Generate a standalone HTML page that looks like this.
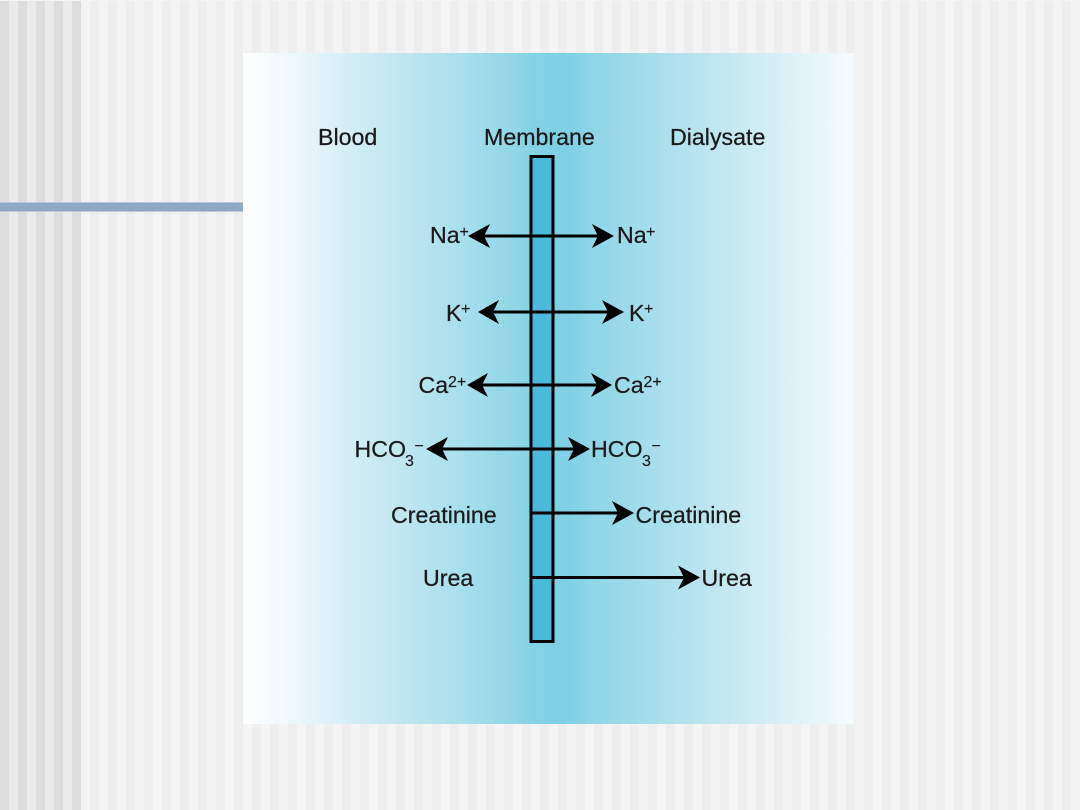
<!DOCTYPE html>
<html>
<head>
<meta charset="utf-8">
<style>
html,body{margin:0;padding:0;background:#f4f4f4;width:1080px;height:810px;overflow:hidden}
.a,.b{position:absolute;top:1px;height:809px}
.a{left:81px;width:999px;background:repeating-linear-gradient(90deg,#f4f4f4 0,#f4f4f4 9px,#eeeeee 9px,#eeeeee 18px)}
.b{left:0;width:81px;background:repeating-linear-gradient(90deg,#dddddd 0,#dddddd 9px,#ebebeb 9px,#ebebeb 18px)}
svg{display:block;position:absolute;left:0;top:0}
text{font-family:"Liberation Sans",Arial,sans-serif;font-size:23.2px;fill:#1a1a1a;stroke:#1a1a1a;stroke-width:.25px}
.s{font-size:16px;stroke-width:.15px}
</style>
</head>
<body>
<div class="a"></div>
<div class="b"></div>
<svg width="1080" height="810" viewBox="0 0 1080 810" xmlns="http://www.w3.org/2000/svg">
<defs>
<linearGradient id="bg" x1="243" x2="854" y1="0" y2="0" gradientUnits="userSpaceOnUse">
<stop offset="0" stop-color="#ffffff"/>
<stop offset="0.07" stop-color="#f0f9fc"/>
<stop offset="0.2" stop-color="#cdebf3"/>
<stop offset="0.36" stop-color="#a8dfec"/>
<stop offset="0.45" stop-color="#8ed5e7"/>
<stop offset="0.48" stop-color="#82d1e5"/>
<stop offset="0.53" stop-color="#7fd0e5"/>
<stop offset="0.57" stop-color="#8ed5e7"/>
<stop offset="0.72" stop-color="#b2e2ee"/>
<stop offset="0.88" stop-color="#d8f0f6"/>
<stop offset="1" stop-color="#f6fcfd"/>
</linearGradient>
</defs>

<rect x="0" y="202" width="243" height="10" fill="#b9c8d9"/>
<rect x="0" y="203" width="243" height="8" fill="#8ea9c5"/>

<rect x="243" y="53" width="611" height="671" fill="url(#bg)"/>

<rect x="531" y="156.500" width="22" height="485" fill="#4bb9d9" stroke="#000" stroke-width="3"/>

<g stroke="#000" stroke-width="3" fill="none">
<line x1="484" y1="236" x2="598" y2="236"/>
<line x1="493" y1="312" x2="608" y2="312"/>
<line x1="482" y1="385" x2="597" y2="385"/>
<line x1="442" y1="449" x2="574" y2="449"/>
<line x1="530" y1="513" x2="618" y2="513"/>
<line x1="530" y1="577.500" x2="684" y2="577.500"/>
</g>
<g fill="#000">
<polygon points="468,236 490,224 484,236 490,248"/>
<polygon points="614,236 592,224 598,236 592,248"/>
<polygon points="478,312 499,300 493,312 499,324"/>
<polygon points="624,312 602,300 608,312 602,324"/>
<polygon points="467,385 488,373 482,385 488,397"/>
<polygon points="612,385 591,373 597,385 591,397"/>
<polygon points="426,449 448,437 442,449 448,461"/>
<polygon points="590,449 568,437 574,449 568,461"/>
<polygon points="634,513 612,501 618,513 612,525"/>
<polygon points="700,577.500 678,565.500 684,577.500 678,589.500"/>
</g>

<g>
<text x="318" y="145">Blood</text>
<text x="484" y="145">Membrane</text>
<text x="670" y="145">Dialysate</text>

<text x="430" y="243">Na</text><text class="s" x="459.500" y="237">+</text>
<text x="617" y="243">Na</text><text class="s" x="646" y="237">+</text>

<text x="446" y="321">K</text><text class="s" x="461" y="314">+</text>
<text x="629" y="321">K</text><text class="s" x="644" y="314">+</text>

<text x="418.500" y="393">Ca</text><text class="s" x="448" y="387">2+</text>
<text x="614" y="393">Ca</text><text class="s" x="643.500" y="387">2+</text>

<text x="354.500" y="457">HCO</text><text class="s" x="405" y="466">3</text><text class="s" x="414.500" y="451">−</text>
<text x="591" y="457">HCO</text><text class="s" x="642" y="466">3</text><text class="s" x="651.500" y="451">−</text>

<text x="391" y="523">Creatinine</text>
<text x="635.500" y="523">Creatinine</text>
<text x="423" y="586">Urea</text>
<text x="701.500" y="586">Urea</text>
</g>
</svg>
</body>
</html>
